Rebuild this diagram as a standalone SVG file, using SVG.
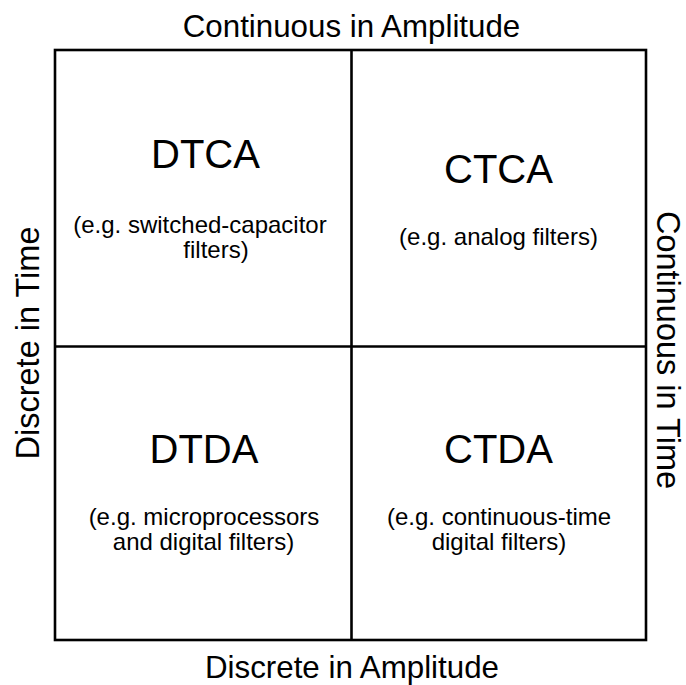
<svg xmlns="http://www.w3.org/2000/svg" width="686" height="685" viewBox="0 0 686 685">
<style>
text{font-family:"Liberation Sans",Arial,sans-serif;fill:#000;text-anchor:middle}
.axis{font-size:32.5px}
.haxis{font-size:31.3px}
.title{font-size:40px}
.sub{font-size:24px}
.ln{stroke:#000;stroke-width:2.6;fill:none}
</style>
<rect width="686" height="685" fill="#fff"/>
<g id="connectors">
<rect class="ln" x="55" y="50" width="591" height="590"/>
<line class="ln" x1="351.5" y1="50" x2="351.5" y2="640"/>
<line class="ln" x1="55" y1="346.5" x2="646" y2="346.5"/>
</g>
<g id="axis-top"><text class="haxis" x="351.5" y="36.7">Continuous in Amplitude</text></g>
<g id="axis-bottom"><text class="haxis" x="352" y="677.5">Discrete in Amplitude</text></g>
<g id="axis-left"><text class="axis" transform="translate(38.5,343) rotate(-90)" x="0" y="0">Discrete in Time</text></g>
<g id="axis-right"><text class="axis" transform="translate(657,350) rotate(90)" x="0" y="0">Continuous in Time</text></g>
<g id="DTCA">
<text class="title" x="205.5" y="168">DTCA</text>
<text class="sub" x="200" y="233">(e.g. switched-capacitor</text>
<text class="sub" x="216" y="258">filters)</text>
</g>
<g id="CTCA">
<text class="title" x="498.5" y="183">CTCA</text>
<text class="sub" x="498.5" y="245">(e.g. analog filters)</text>
</g>
<g id="DTDA">
<text class="title" x="204" y="463">DTDA</text>
<text class="sub" x="204" y="525">(e.g. microprocessors</text>
<text class="sub" x="203.5" y="550">and digital filters)</text>
</g>
<g id="CTDA">
<text class="title" x="498.5" y="463">CTDA</text>
<text class="sub" x="499" y="525">(e.g. continuous-time</text>
<text class="sub" x="499" y="550">digital filters)</text>
</g>
</svg>
